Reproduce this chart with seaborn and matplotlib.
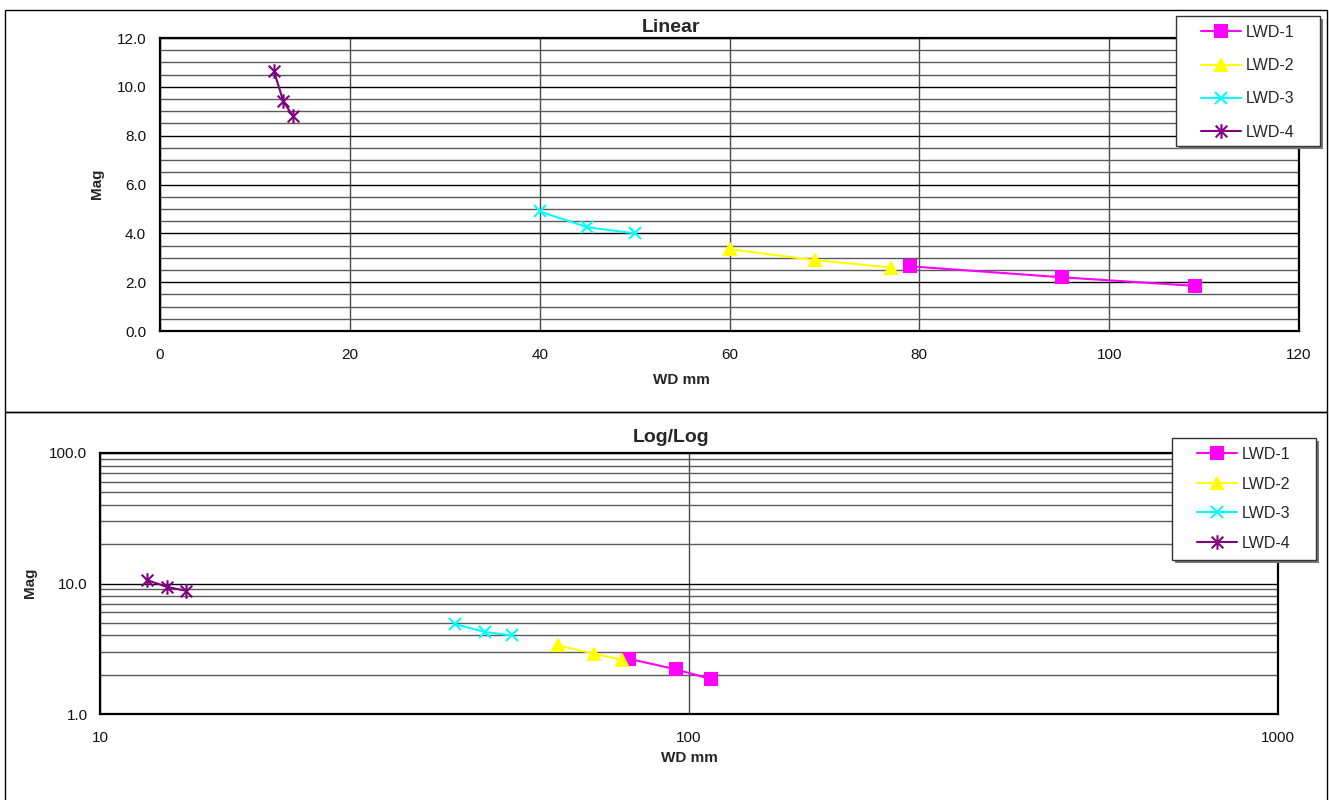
import numpy as np
import pandas as pd
import matplotlib
matplotlib.use("Agg")
import matplotlib.pyplot as plt
from matplotlib.patches import Rectangle
from matplotlib.path import Path
from matplotlib.ticker import FixedLocator, NullFormatter, FormatStrFormatter
import seaborn as sns

# data
series = ["LWD-1", "LWD-2", "LWD-3", "LWD-4"]
wd_lwd1 = [79, 95, 109]
mag_lwd1 = [2.65, 2.2, 1.85]
wd_lwd2 = [60, 69, 77]
mag_lwd2 = [3.35, 2.9, 2.6]
wd_lwd3 = [40, 45, 50]
mag_lwd3 = [4.9, 4.25, 4.0]
wd_lwd4 = [12, 13, 14]
mag_lwd4 = [10.65, 9.4, 8.8]

# excel style asterisk: an X with a vertical bar through it
star = Path([(-1, -1), (1, 1), (-1, 1), (1, -1), (0, -1.25), (0, 1.25)],
            [Path.MOVETO, Path.LINETO, Path.MOVETO, Path.LINETO, Path.MOVETO, Path.LINETO])

colors = ["#FF00FF", "#FFFF00", "#00FFFF", "#800080"]
markers = ["s", "^", "x", star]
msizes = [8, 8.5, 9, 10.5]

wd_all = [wd_lwd1, wd_lwd2, wd_lwd3, wd_lwd4]
mag_all = [mag_lwd1, mag_lwd2, mag_lwd3, mag_lwd4]

sns.set_theme(style="white")
plt.rcParams['font.family'] = ['Liberation Sans', 'DejaVu Sans']

W, H = 1329, 800
fig = plt.figure(figsize=(W / 100, H / 100), dpi=100)


def fx(px):
    return px / W


def fy(py):
    return 1 - py / H


def draw_series(ax):
    for name, xs, ys, c, m, ms in zip(series, wd_all, mag_all, colors, markers, msizes):
        df = pd.DataFrame({"WD": xs, "Mag": ys})
        sns.lineplot(data=df, x="WD", y="Mag", ax=ax, color=c, marker=m,
                     markersize=ms, markeredgecolor=c, markeredgewidth=1.5,
                     linewidth=1.5, label=name, zorder=3)


def style_axes(ax):
    for sp in ax.spines.values():
        sp.set_color("black")
        sp.set_linewidth(1.6)
        sp.set_visible(True)
    ax.tick_params(length=0, labelsize=11, colors="#111111")
    ax.set_xlabel("")
    ax.set_ylabel("")
    ax.set_axisbelow(True)
    ax.get_legend().remove()


def add_legend(ax, box, first_y, spacing):
    handles, labels = ax.get_legend_handles_labels()
    x0, y0, x1, y1 = box
    fig.add_artist(Rectangle((fx(x0 + 3), fy(y1 + 3)), fx(x1 - x0), (y1 - y0) / H,
                             transform=fig.transFigure, facecolor="#777777",
                             edgecolor="none", zorder=4))
    fig.add_artist(Rectangle((fx(x0), fy(y1)), fx(x1 - x0), (y1 - y0) / H,
                             transform=fig.transFigure, facecolor="white",
                             edgecolor="#333333", linewidth=1, zorder=5))
    fs = 11.5
    fs_px = fs * 100 / 72
    leg = fig.legend(handles, labels, loc="upper left",
                     bbox_to_anchor=(fx(x0 + 25), fy(first_y + 2 - fs_px / 2)),
                     frameon=False, borderpad=0, borderaxespad=0,
                     handlelength=40 / fs_px, handletextpad=5 / fs_px,
                     labelspacing=(spacing + 1.2 - fs_px) / fs_px, fontsize=fs)
    leg.set_zorder(6)


# outer chart frames
fig.add_artist(Rectangle((fx(5), fy(412)), fx(1322), 402 / H, transform=fig.transFigure,
                         fill=False, edgecolor="black", linewidth=1))
fig.add_artist(Rectangle((fx(5), fy(806)), fx(1322), 394 / H, transform=fig.transFigure,
                         fill=False, edgecolor="black", linewidth=1))

# ---------- Linear ----------
ax1 = fig.add_axes([fx(160), fy(331), fx(1299 - 160), (331 - 38) / H])
draw_series(ax1)
ax1.set_xlim(0, 120)
ax1.set_ylim(0, 12)
ax1.set_xticks(np.arange(0, 121, 20))
ax1.set_yticks(np.arange(0, 12.1, 2))
ax1.yaxis.set_minor_locator(FixedLocator(np.arange(0, 12.01, 0.5)))
ax1.yaxis.set_major_formatter(FormatStrFormatter("%.1f"))
ax1.grid(True, which="major", axis="y", color="black", linewidth=1)
ax1.grid(True, which="minor", axis="y", color="#5a5a5a", linewidth=1)
ax1.grid(True, which="major", axis="x", color="#4a4a4a", linewidth=1)
style_axes(ax1)
ax1.tick_params(axis="x", pad=12)
ax1.tick_params(axis="y", pad=10)
add_legend(ax1, (1176, 16, 1320, 146), 31, 33)

fig.text(fx(671), fy(28), "Linear", ha="center", va="center", fontsize=14, fontweight="bold")
fig.text(fx(681), fy(380), "WD mm", ha="center", va="center", fontsize=11, fontweight="bold")
fig.text(fx(97), fy(184), "Mag", ha="center", va="center", fontsize=11, fontweight="bold",
         rotation=90)

# ---------- Log/Log ----------
ax2 = fig.add_axes([fx(100), fy(714), fx(1278 - 100), (714 - 453) / H])
draw_series(ax2)
ax2.set_xscale("log")
ax2.set_yscale("log")
ax2.set_xlim(10, 1000)
ax2.set_ylim(1, 100)
ax2.xaxis.set_major_locator(FixedLocator([10, 100, 1000]))
ax2.xaxis.set_minor_locator(FixedLocator([]))
ax2.xaxis.set_major_formatter(FormatStrFormatter("%d"))
ax2.xaxis.set_minor_formatter(NullFormatter())
ax2.yaxis.set_major_locator(FixedLocator([1, 10, 100]))
ax2.yaxis.set_minor_locator(FixedLocator([k * d for d in (1, 10) for k in range(2, 10)]))
ax2.yaxis.set_major_formatter(FormatStrFormatter("%.1f"))
ax2.yaxis.set_minor_formatter(NullFormatter())
ax2.grid(True, which="major", axis="y", color="black", linewidth=1)
ax2.grid(True, which="minor", axis="y", color="#5a5a5a", linewidth=1)
ax2.grid(True, which="major", axis="x", color="#4a4a4a", linewidth=1)
style_axes(ax2)
ax2.tick_params(axis="x", pad=12)
ax2.tick_params(axis="y", pad=9)
add_legend(ax2, (1172, 438, 1316, 560), 453, 29.3)

fig.text(fx(671), fy(438), "Log/Log", ha="center", va="center", fontsize=14, fontweight="bold")
fig.text(fx(689), fy(758), "WD mm", ha="center", va="center", fontsize=11, fontweight="bold")
fig.text(fx(30), fy(583), "Mag", ha="center", va="center", fontsize=11, fontweight="bold",
         rotation=90)

fig.savefig("out.png", dpi=100)
